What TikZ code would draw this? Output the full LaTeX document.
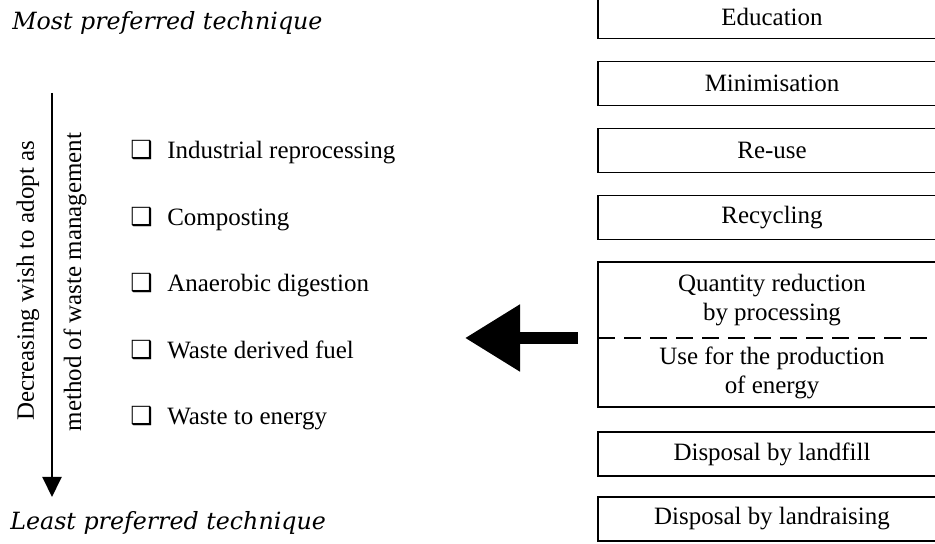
\documentclass[tikz,border=0pt]{standalone}
\usepackage{fontspec}
\setmainfont{Liberation Serif}
\newfontfamily\titlefont{DejaVu Serif}
\newfontfamily\symfont{DejaVu Sans}
\usetikzlibrary{positioning,arrows.meta}

\newcommand{\chk}{{\symfont ❑}}

\tikzset{
  stage/.style={draw,line width=1.1pt,minimum width=6.96cm,minimum height=0.88cm,inner sep=0pt,outer sep=0pt},
  half/.style={minimum width=6.96cm,inner sep=0pt,outer sep=0pt,align=center},
  method/.style={anchor=base west,inner sep=0pt},
  pref/.style={anchor=base west,inner sep=0pt,font=\titlefont\itshape\fontsize{13.5}{16}\selectfont},
}

\begin{document}
\begin{tikzpicture}[font=\fontsize{14.2}{16.5}\selectfont]
    \useasboundingbox (0,0) rectangle (18.7,10.88);

    \node[pref] (most) at (0.24,10.28) {Most preferred technique};
    \node[pref] (least) at (0.2,0.28) {Least preferred technique};

    \coordinate (top) at (1.04,9.02);
    \coordinate (bottom) at (1.04,0.94);
    \draw[line width=1.1pt,-{Triangle[length=0.4cm,width=0.38cm]}] (top) -- (bottom);
    \node[rotate=90] (wish) at (0.56,5.26) {Decreasing wish to adopt as};
    \node[rotate=90] (method) at (1.5,5.24) {method of waste management};

    \node[method] (ind) at (2.6,7.70) {\makebox[0.74cm][l]{\chk}Industrial reprocessing};
    \node[method] (comp) at (2.6,6.37) {\makebox[0.74cm][l]{\chk}Composting};
    \node[method] (anae) at (2.6,5.04) {\makebox[0.74cm][l]{\chk}Anaerobic digestion};
    \node[method] (wdf) at (2.6,3.71) {\makebox[0.74cm][l]{\chk}Waste derived fuel};
    \node[method] (wte) at (2.6,2.38) {\makebox[0.74cm][l]{\chk}Waste to energy};

    \node[stage,anchor=north west] (edu) at (11.96,10.99) {Education};
    \node[stage,below=0.46cm of edu] (mini) {Minimisation};
    \node[stage,below=0.46cm of mini] (reuse) {Re-use};
    \node[stage,below=0.46cm of reuse] (recyc) {Recycling};
    \node[half,minimum height=1.52cm,below=0.45cm of recyc] (qty) {Quantity reduction\\by processing};
    \node[half,minimum height=1.38cm,below=0cm of qty] (energy) {Use for the production\\of energy};
    \draw[line width=1.1pt] (qty.north west) rectangle (energy.south east);
    \draw[line width=1.1pt,dash pattern=on 0.34cm off 0.18cm] (qty.south west) -- (qty.south east);
    \node[stage,below=0.5cm of energy] (fill) {Disposal by landfill};
    \node[stage,below=0.42cm of fill] (raise) {Disposal by landraising};

    \coordinate (tip) at ([xshift=-2.66cm]energy.north west);
    \draw[line width=0.24cm,-{Triangle[length=1.1cm,width=1.28cm]}] ([xshift=-0.4cm]energy.north west) -- (tip);
\end{tikzpicture}
\end{document}
